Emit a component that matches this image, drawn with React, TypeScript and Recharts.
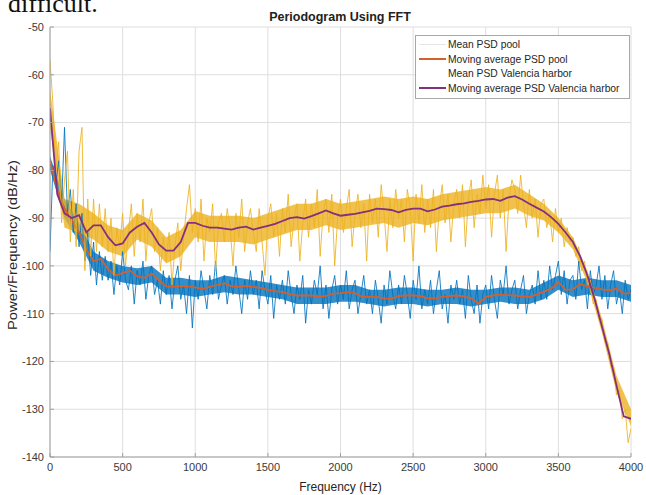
import { ComposedChart, Line, Area, XAxis, YAxis, CartesianGrid } from 'recharts'

const NOISE_STEP_HZ = 20
const AVG_STEP_HZ = 50
const BAND_STEP_HZ = 100

// Mean PSD of the pool recording, dB/Hz, one value every 20 Hz (0..4000)
const poolPsd = [
  -97, -79, -83, -78, -87, -71, -89, -84, -93, -87,
  -96, -89, -99, -93, -102, -95, -104, -97, -103, -98,
  -103, -99, -106, -100, -104, -97, -103, -105, -100, -108,
  -101, -104, -99, -107, -102, -100, -106, -103, -108, -101,
  -106, -102, -109, -103, -100, -107, -104, -110, -102, -113,
  -103, -107, -101, -105, -109, -102, -106, -99, -107, -104,
  -102, -108, -103, -106, -100, -105, -110, -103, -107, -101,
  -106, -103, -109, -101, -105, -108, -102, -111, -104, -107,
  -103, -108, -101, -106, -110, -104, -107, -102, -112, -105,
  -108, -103, -106, -100, -109, -104, -111, -105, -102, -108,
  -104, -107, -101, -109, -105, -103, -110, -106, -102, -108,
  -105, -110, -103, -107, -112, -104, -108, -101, -106, -109,
  -104, -108, -102, -106, -111, -103, -107, -100, -109, -105,
  -108, -103, -110, -105, -101, -109, -106, -112, -104, -107,
  -103, -108, -105, -111, -102, -107, -110, -104, -112, -106,
  -104, -109, -102, -107, -111, -103, -106, -100, -108, -105,
  -103, -109, -105, -102, -110, -106, -104, -108, -101, -107,
  -103, -107, -100, -105, -102, -99, -106, -101, -108, -103,
  -102, -107, -99, -105, -103, -109, -101, -106, -104, -100,
  -107, -102, -109, -104, -101, -108, -105, -110, -103, -107,
  -105,
]

// Mean PSD of the Valencia harbor recording, same grid
const harborPsd = [
  -57, -66, -80, -74, -91, -82, -76, -95, -84, -96,
  -76, -71, -101, -86, -98, -86, -97, -87, -96, -88,
  -97, -90, -102, -92, -96, -89, -100, -93, -87, -98,
  -89, -95, -86, -99, -91, -88, -97, -92, -101, -94,
  -99, -93, -104, -96, -91, -101, -94, -88, -83, -93,
  -88, -95, -86, -99, -90, -93, -87, -101, -91, -89,
  -95, -88, -92, -100, -89, -94, -86, -97, -91, -88,
  -93, -97, -88, -95, -102, -90, -87, -94, -89, -98,
  -88, -93, -85, -96, -90, -87, -99, -91, -86, -94,
  -87, -92, -84, -98, -89, -86, -93, -85, -100, -90,
  -86, -93, -88, -84, -96, -89, -85, -92, -87, -99,
  -85, -91, -86, -94, -83, -89, -97, -86, -92, -84,
  -90, -86, -95, -84, -88, -99, -85, -91, -83, -93,
  -86, -92, -84, -97, -88, -83, -91, -85, -95, -87,
  -84, -90, -83, -96, -86, -82, -92, -85, -89, -81,
  -88, -83, -94, -85, -81, -90, -84, -97, -86, -82,
  -84, -89, -81, -87, -92, -84, -90, -86, -94, -87,
  -86, -92, -89, -95, -88, -93, -90, -96, -92, -95,
  -94, -98, -96, -101, -99, -104, -103, -108, -107, -111,
  -111, -116, -116, -121, -121, -127, -126, -132, -130, -137,
  -134,
]

// dense core of each noisy trace, one value every 100 Hz (0..4000)
const poolCoreHigh = [
  -77, -86, -91, -97, -99, -100, -100.5, -100, -102.5, -102.5,
  -103, -103, -102, -102.5, -103, -103.5, -104, -104.5, -104.5, -104.5,
  -104, -104, -105, -105, -104.5, -104.5, -105, -105, -104.5, -105,
  -105, -104.5, -104.5, -105, -103.5, -102, -103, -102.5, -103, -103,
  -104,
]
const poolCoreLow = [
  -80, -90, -95, -101, -102.5, -103.5, -104, -103.5, -106, -106,
  -106.5, -106, -105.5, -106, -106, -106.5, -107, -108, -108, -108,
  -107.5, -107.5, -108, -108.5, -108, -108, -108.5, -108, -108, -108.5,
  -108, -107.5, -108, -108, -107, -105, -106.5, -106, -106.5, -106.5,
  -107.5,
]
const harborCoreHigh = [
  -63, -86, -87, -89, -91.5, -92.5, -89, -90.5, -94, -92.5,
  -88.5, -89.5, -89.5, -89.5, -90, -89, -88, -87, -87, -86,
  -87, -86.5, -86, -85.5, -86, -85.5, -86, -85, -84.5, -84,
  -83.5, -84, -83, -85, -87, -90, -94, -101, -111, -123,
  -130,
]
const harborCoreLow = [
  -71, -92, -93, -94.5, -97, -98, -94.5, -96, -99.5, -98,
  -94, -95, -95, -95, -95.5, -94.5, -93.5, -92.5, -92.5, -91.5,
  -92.5, -92, -91.5, -91, -92, -91, -91.5, -90.5, -90, -89.5,
  -89, -89, -88, -89.5, -90.5, -93, -96.5, -103.5, -114, -126.5,
  -133.5,
]

// moving averages, one value every 50 Hz (0..4000)
const poolMovingAvg = [
  -78, -84, -88, -90.5, -93, -96.5, -99, -98.5, -100.7, -102,
  -101.5, -101, -102.2, -102.5, -101.6, -103, -104.3, -104.4, -104.2, -104.3,
  -104.5, -104.8, -104.4, -104, -103.6, -104.3, -104.4, -104.2, -104.4, -104.6,
  -105, -105.3, -105.5, -105.9, -106.2, -106.2, -106.2, -106.5, -106.3, -105.8,
  -105.7, -105.5, -105.7, -106.5, -106.5, -106.5, -106.8, -106.9, -106.3, -106.2,
  -106.2, -106.3, -106.8, -106.8, -106.5, -106.3, -106.2, -106.4, -106.8, -107.9,
  -106.5, -106.2, -106, -106.1, -106.2, -106.4, -106.5, -106, -105.4, -104.8,
  -103.4, -105, -104.9, -103.8, -104.3, -104.6, -104.9, -105.1, -104.8, -105.8,
  -105.7,
]

const harborMovingAvg = [
  -67, -85, -89, -90, -89.4, -93, -91.5, -91.5, -94, -95.7,
  -95.3, -93, -91.8, -91, -93, -95.5, -96.8, -96.8, -95, -91,
  -91, -91.6, -92, -92, -92.2, -92.4, -92, -91.8, -92.4, -92,
  -91.6, -91.2, -90.6, -90, -89.8, -90.1, -89.6, -89, -88.4, -89,
  -89.5, -89.3, -89.1, -88.8, -88.5, -88, -88.1, -88.3, -88.8, -88.3,
  -88, -88, -88.6, -88.2, -87.6, -87.4, -87.1, -86.9, -86.6, -86.4,
  -86.1, -86, -86.4, -85.7, -85.4, -86.1, -87, -87.8, -88.6, -89.8,
  -91.2, -93, -95, -98, -102, -107, -112.7, -118.4, -125, -131.5,
  -132,
]

const freqTicks = [0, 500, 1000, 1500, 2000, 2500, 3000, 3500, 4000]
const dbTicks = [-140, -130, -120, -110, -100, -90, -80, -70, -60, -50]

const BLUE = '#0072bd'
const YELLOW = '#edb120'
const ORANGE = '#d4602e'
const PURPLE = '#84307f'
const FONT = '"Liberation Sans", Arial, Helvetica, sans-serif'

const legendItems = [
  { name: 'Mean PSD pool', color: '#e6e6e6', width: 1 },
  { name: 'Moving average PSD pool', color: ORANGE, width: 2 },
  { name: 'Mean PSD Valencia harbor', color: 'transparent', width: 1 },
  { name: 'Moving average PSD Valencia harbor', color: PURPLE, width: 2 },
]

const toRows = (values: number[], step: number) => values.map((v, i) => ({ f: i * step, v }))
const toBand = (low: number[], high: number[], step: number) =>
  low.map((lo, i) => ({ f: i * step, band: [lo, high[i]] }))

const poolRows = toRows(poolPsd, NOISE_STEP_HZ)
const harborRows = toRows(harborPsd, NOISE_STEP_HZ)
const poolAvgRows = toRows(poolMovingAvg, AVG_STEP_HZ)
const harborAvgRows = toRows(harborMovingAvg, AVG_STEP_HZ)
const poolBand = toBand(poolCoreLow, poolCoreHigh, BAND_STEP_HZ)
const harborBand = toBand(harborCoreLow, harborCoreHigh, BAND_STEP_HZ)

function XLabel({ viewBox }: any) {
  const { x, y, width } = viewBox
  return (
    <text x={x + width / 2} y={y + 34} textAnchor="middle" fontSize={12} fill="#262626" fontFamily={FONT}>
      Frequency (Hz)
    </text>
  )
}

function YLabel({ viewBox }: any) {
  const { x, y, height } = viewBox
  const cx = x + 13
  const cy = y + height / 2 + 3
  return (
    <text
      x={cx}
      y={cy}
      transform={`rotate(-90 ${cx} ${cy})`}
      textAnchor="middle"
      dominantBaseline="central"
      fontSize={12.5}
      textLength={170}
      lengthAdjust="spacingAndGlyphs"
      fill="#262626"
      fontFamily={FONT}
    >
      Power/Frequency (dB/Hz)
    </text>
  )
}

function LegendBox() {
  return (
    <div
      style={{
        position: 'absolute',
        left: 415,
        top: 35,
        width: 213,
        height: 61,
        border: '1px solid #a8a8a8',
        background: '#fff',
        paddingTop: 1,
        boxSizing: 'content-box',
        fontFamily: FONT,
        fontSize: 10.3,
        color: '#262626',
      }}
    >
      {legendItems.map((item) => (
        <div key={item.name} style={{ display: 'flex', alignItems: 'center', height: 14.7 }}>
          <div style={{ width: 27, height: item.width, marginLeft: 3, background: item.color }} />
          <span style={{ marginLeft: 2, whiteSpace: 'nowrap' }}>{item.name}</span>
        </div>
      ))}
    </div>
  )
}

export default function App() {
  const tickStyle = { fontSize: 11, fill: '#3a3a3a', fontFamily: FONT }
  return (
    <div style={{ position: 'absolute', left: 0, top: 0, width: 646, height: 495, background: '#fff', overflow: 'hidden' }}>
      <svg width={646} height={30} style={{ position: 'absolute', left: 0, top: 0 }}>
        <text x={8} y={12} fontSize={26} fontFamily='"Liberation Serif", "Times New Roman", serif' fill="#111">
          difficult.
        </text>
        <text x={340} y={21} textAnchor="middle" fontSize={12.5} fontWeight="bold" fontFamily={FONT} fill="#222">
          Periodogram Using FFT
        </text>
      </svg>
      <div style={{ position: 'absolute', left: 0, top: 0 }}>
        <ComposedChart width={646} height={495} margin={{ top: 27, right: 15, bottom: 0, left: 0 }}>
          <CartesianGrid stroke="#dedede" />
          <XAxis
            xAxisId="top"
            orientation="top"
            type="number"
            domain={[0, 4000]}
            ticks={freqTicks}
            height={0}
            tick={false}
            tickSize={-4}
            stroke="#a0a0a0"
            allowDataOverflow
          />
          <YAxis
            yAxisId="right"
            orientation="right"
            type="number"
            domain={[-140, -50]}
            ticks={dbTicks}
            width={0}
            tick={false}
            tickSize={-4}
            stroke="#a0a0a0"
            allowDataOverflow
          />
          <XAxis
            dataKey="f"
            type="number"
            domain={[0, 4000]}
            ticks={freqTicks}
            height={38}
            tickSize={-4}
            tickMargin={10}
            stroke="#a0a0a0"
            tick={tickStyle}
            allowDataOverflow
            label={<XLabel />}
          />
          <YAxis
            type="number"
            domain={[-140, -50]}
            ticks={dbTicks}
            width={50}
            tickSize={-4}
            tickMargin={10}
            stroke="#a0a0a0"
            tick={tickStyle}
            allowDataOverflow
            label={<YLabel />}
          />
          <Area data={poolBand} dataKey="band" type="linear" stroke="none" fill={BLUE} fillOpacity={0.8} dot={false} activeDot={false} isAnimationActive={false} />
          <Line data={poolRows} dataKey="v" stroke={BLUE} strokeWidth={1} strokeOpacity={0.85} dot={false} activeDot={false} isAnimationActive={false} />
          <Line data={poolAvgRows} dataKey="v" stroke={ORANGE} strokeWidth={1.8} dot={false} activeDot={false} isAnimationActive={false} />
          <Area data={harborBand} dataKey="band" type="linear" stroke="none" fill={YELLOW} fillOpacity={0.8} dot={false} activeDot={false} isAnimationActive={false} />
          <Line data={harborRows} dataKey="v" stroke={YELLOW} strokeWidth={1} strokeOpacity={0.85} dot={false} activeDot={false} isAnimationActive={false} />
          <Line data={harborAvgRows} dataKey="v" stroke={PURPLE} strokeWidth={1.8} dot={false} activeDot={false} isAnimationActive={false} />
        </ComposedChart>
      </div>
      <LegendBox />
    </div>
  )
}
